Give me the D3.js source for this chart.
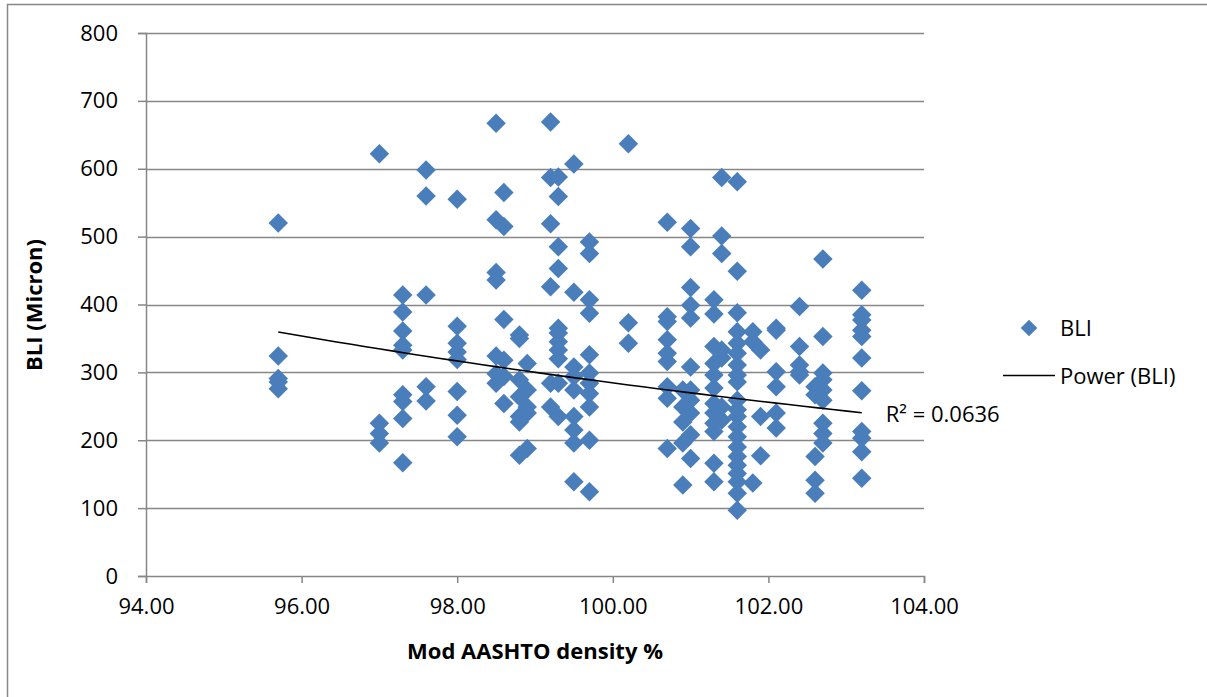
<!DOCTYPE html>
<html>
<head>
<meta charset="utf-8">
<script src="https://cdn.jsdelivr.net/npm/d3@7"></script>
<style>
  html, body { margin: 0; padding: 0; background: #fff; }
  svg { display: block; }
  text { font-family: "Open Sans", "Liberation Sans", sans-serif; fill: #000; }
</style>
</head>
<body>
<svg id="chart" width="1207" height="697"></svg>
<script>
// ---- Data ----
const xTicks = [94, 96, 98, 100, 102, 104];
const yTicks = [0, 100, 200, 300, 400, 500, 600, 700, 800];

// Density columns (Mod AASHTO density %) and BLI values (micron) at each
const densities = [95.7, 97.0, 97.3, 97.6, 98.0, 98.5, 98.6, 98.8, 98.9, 99.2, 99.3, 99.5, 99.7,
  100.2, 100.7, 100.9, 101.0, 101.3, 101.4, 101.6, 101.8, 101.9, 102.1, 102.4, 102.6, 102.7, 103.2];
const bliValues = [
  [520, 324, 291, 286, 276],
  [622, 225, 210, 196],
  [414, 389, 361, 340, 333, 267, 257, 232, 167],
  [598, 560, 414, 279, 258],
  [555, 368, 343, 330, 319, 272, 237, 205],
  [667, 525, 447, 436, 324, 298, 284],
  [565, 515, 378, 318, 294, 254],
  [355, 350, 289, 264, 235, 227, 178],
  [313, 274, 249, 240, 188],
  [669, 587, 519, 426, 284, 249],
  [588, 559, 485, 453, 365, 358, 345, 333, 320, 284, 235],
  [607, 418, 308, 294, 274, 235, 215, 196, 139],
  [492, 475, 407, 387, 326, 299, 284, 269, 249, 200, 124],
  [637, 373, 343],
  [521, 382, 375, 348, 328, 316, 279, 262, 188],
  [274, 249, 227, 196, 134],
  [512, 485, 425, 399, 380, 308, 274, 259, 240, 208, 173],
  [407, 386, 338, 313, 296, 277, 254, 240, 225, 213, 166, 139],
  [587, 501, 475, 333, 321, 249, 230],
  [581, 449, 388, 360, 343, 328, 311, 296, 286, 259, 245, 235, 220, 205, 190, 176, 163, 151, 139, 122, 97],
  [360, 345, 137],
  [333, 235, 177],
  [365, 362, 301, 279, 240, 218],
  [397, 338, 311, 301, 296],
  [279, 267, 176, 141, 122],
  [467, 353, 299, 289, 274, 259, 225, 210, 196],
  [421, 385, 377, 362, 353, 321, 273, 213, 203, 183, 144]
];

// Power trendline, read from its drawn end values
const trendX = [95.7, 103.2];
const trendY = [359.5, 240.6];
const rSquaredLabel = "R² = 0.0636";

// ---- Build point list ----
const points = [];
densities.forEach((d, i) => bliValues[i].forEach(v => points.push({x: d, y: v})));

// ---- Layout ----
const svg = d3.select("#chart");
const plot = {left: 146, right: 924, top: 33, bottom: 576};
const x = d3.scaleLinear().domain([94, 104]).range([plot.left, plot.right]);
const y = d3.scaleLinear().domain([0, 800]).range([plot.bottom, plot.top]);

const gridColor = "#868686";
const pointColor = "#4a7ebb";
const fs = "22px";

// Outer chart border
svg.append("rect").attr("x", 7.5).attr("y", 4.5).attr("width", 1230).attr("height", 720)
  .attr("fill", "none").attr("stroke", "#888").attr("stroke-width", 1.5);

// Gridlines
svg.append("g").selectAll("line").data(yTicks.filter(t => t > 0)).join("line")
  .attr("x1", plot.left).attr("x2", plot.right)
  .attr("y1", d => Math.round(y(d)) + 0.5).attr("y2", d => Math.round(y(d)) + 0.5)
  .attr("stroke", gridColor).attr("stroke-width", 1.5);

// Y axis
const yAxis = svg.append("g").attr("transform", `translate(${plot.left},0)`)
  .call(d3.axisLeft(y).tickValues(yTicks).tickSize(8).tickPadding(20).tickFormat(d3.format("d")));
yAxis.select(".domain").attr("stroke", gridColor).attr("stroke-width", 1.5);
yAxis.selectAll(".tick line").attr("stroke", gridColor).attr("stroke-width", 1.5);
yAxis.selectAll("text").style("font-size", fs).style("font-family", "'Open Sans', sans-serif").attr("fill", "#000");

// X axis
const xAxis = svg.append("g").attr("transform", `translate(0,${plot.bottom})`)
  .call(d3.axisBottom(x).tickValues(xTicks).tickSize(7).tickPadding(15).tickFormat(d3.format(".2f")));
xAxis.select(".domain").attr("stroke", gridColor).attr("stroke-width", 1.5);
xAxis.selectAll(".tick line").attr("stroke", gridColor).attr("stroke-width", 1.5);
xAxis.selectAll("text").style("font-size", fs).style("font-family", "'Open Sans', sans-serif").attr("fill", "#000");

// Diamond markers
const diamond = d3.symbol().type(d3.symbolSquare).size(190);
svg.append("g").selectAll("path").data(points).join("path")
  .attr("d", diamond)
  .attr("transform", d => `translate(${x(d.x)},${y(d.y)}) rotate(45)`)
  .attr("fill", pointColor);

// Power trendline y = a * x^b
const b = Math.log(trendY[1] / trendY[0]) / Math.log(trendX[1] / trendX[0]);
const a = trendY[0] / Math.pow(trendX[0], b);
const trendPts = d3.range(0, 41).map(i => {
  const xv = trendX[0] + (trendX[1] - trendX[0]) * i / 40;
  return [xv, a * Math.pow(xv, b)];
});
svg.append("path").datum(trendPts)
  .attr("d", d3.line().x(d => x(d[0])).y(d => y(d[1])))
  .attr("fill", "none").attr("stroke", "#000").attr("stroke-width", 1.6);

// R² label
svg.append("text").attr("x", x(trendX[1]) + 24).attr("y", y(trendY[1]) + 9)
  .style("font-size", fs).text(rSquaredLabel);

// Axis titles
svg.append("text").attr("x", 535).attr("y", 659).attr("text-anchor", "middle")
  .style("font-size", fs).style("font-weight", "bold").text("Mod AASHTO density %");
svg.append("text").attr("transform", "translate(42,305) rotate(-90)").attr("text-anchor", "middle")
  .style("font-size", fs).style("font-weight", "bold").text("BLI (Micron)");

// Legend
const legend = svg.append("g");
legend.append("path").attr("d", diamond)
  .attr("transform", "translate(1029,328) rotate(45) scale(0.85)").attr("fill", pointColor);
legend.append("text").attr("x", 1060).attr("y", 336).style("font-size", fs).text("BLI");
legend.append("line").attr("x1", 1003).attr("x2", 1055).attr("y1", 375.5).attr("y2", 375.5)
  .attr("stroke", "#000").attr("stroke-width", 1.5);
legend.append("text").attr("x", 1060).attr("y", 384).style("font-size", fs).text("Power (BLI)");
</script>
</body>
</html>
